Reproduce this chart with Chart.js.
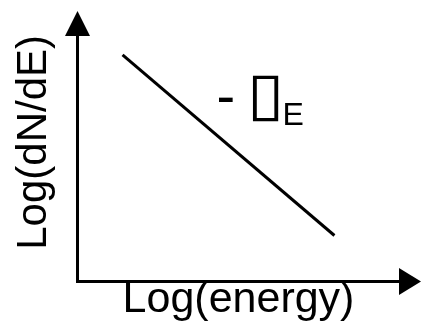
<!DOCTYPE html>
<html>
<head>
<meta charset="utf-8">
<script src="https://cdn.jsdelivr.net/npm/chart.js@4/dist/chart.umd.min.js"></script>
<style>
  html, body { margin: 0; padding: 0; background: #fff; }
  canvas { display: block; }
</style>
</head>
<body>
<canvas id="spectrum" width="421" height="322"></canvas>
<script>
// Schematic power-law spectrum: log flux falls linearly with log energy.
const xTitle = 'Log(energy)';
const yTitle = 'Log(dN/dE)';
const logEnergy = [1.41, 7.97];
const logFlux = [9.19, 1.85];
const slopeSign = '-';
const slopeSymbol = '\u25AF';
const slopeSubscript = 'E';

// Where the slope annotation starts (baseline, left end), in axis units.
const slopeLabelAt = { x: 4.40, y: 6.75 };

const FONT = '"Liberation Sans", Arial, sans-serif';

const arrowAxes = {
  id: 'arrowAxes',
  afterDraw(chart) {
    const { ctx, chartArea: a } = chart;
    const cx = Math.round(a.left) + 0.5;
    const cy = Math.round(a.bottom) + 0.5;
    ctx.save();
    ctx.fillStyle = '#000';
    // arrowhead on the vertical axis
    ctx.beginPath();
    ctx.moveTo(cx, a.top - 24);
    ctx.lineTo(cx - 12.5, a.top + 1);
    ctx.lineTo(cx + 12.5, a.top + 1);
    ctx.closePath();
    ctx.fill();
    // arrowhead on the horizontal axis
    ctx.beginPath();
    ctx.moveTo(a.right + 21, cy);
    ctx.lineTo(a.right - 1, cy - 13.5);
    ctx.lineTo(a.right - 1, cy + 13.5);
    ctx.closePath();
    ctx.fill();
    ctx.restore();
  }
};

const slopeLabel = {
  id: 'slopeLabel',
  afterDatasetsDraw(chart) {
    const { ctx, scales } = chart;
    const x0 = scales.x.getPixelForValue(slopeLabelAt.x);
    const y0 = scales.y.getPixelForValue(slopeLabelAt.y);
    ctx.save();
    ctx.fillStyle = '#000';
    ctx.textBaseline = 'alphabetic';
    ctx.textAlign = 'left';

    ctx.font = '56px ' + FONT;
    ctx.fillText(slopeSign, x0 - 2.5, y0);

    // symbol stretched to a 25.6 x 46.7 px outline
    ctx.font = '100px "DejaVu Sans"';
    const m = ctx.measureText(slopeSymbol);
    const gw = m.actualBoundingBoxLeft + m.actualBoundingBoxRight;
    const gh = m.actualBoundingBoxAscent + m.actualBoundingBoxDescent;
    ctx.translate(x0 + 33.7, y0 - 40);
    ctx.scale(25.6 / gw, 46.7 / gh);
    ctx.fillText(slopeSymbol, m.actualBoundingBoxLeft, m.actualBoundingBoxAscent);
    ctx.setTransform(1, 0, 0, 1, 0, 0);

    ctx.font = '32px ' + FONT;
    ctx.fillText(slopeSubscript, x0 + 63.5, y0 + 10);
    ctx.restore();
  }
};

new Chart(document.getElementById('spectrum'), {
  type: 'scatter',
  data: {
    datasets: [{
      data: logEnergy.map((e, i) => ({ x: e, y: logFlux[i] })),
      showLine: true,
      borderColor: '#000',
      borderWidth: 3,
      pointRadius: 0,
      pointHoverRadius: 0,
      fill: false
    }]
  },
  options: {
    responsive: false,
    animation: false,
    events: [],
    layout: { padding: { left: 10, right: 21, top: 35, bottom: 0 } },
    plugins: { legend: { display: false }, tooltip: { enabled: false } },
    scales: {
      x: {
        type: 'linear',
        min: 0,
        max: 10,
        grid: { display: false, drawTicks: false },
        ticks: { display: false },
        border: { display: true, color: '#000', width: 3 },
        title: {
          display: true,
          text: xTitle,
          color: '#000',
          font: { family: FONT, size: 43, lineHeight: 1 },
          padding: { top: -2.5, bottom: 0.5 }
        }
      },
      y: {
        type: 'linear',
        min: 0,
        max: 10,
        grid: { display: false, drawTicks: false },
        ticks: { display: false },
        border: { display: true, color: '#000', width: 3 },
        title: {
          display: true,
          text: yTitle,
          align: 'end',
          color: '#000',
          font: { family: FONT, size: 42, lineHeight: 1 },
          padding: { top: 3.5, bottom: 21.5 }
        }
      }
    }
  },
  plugins: [arrowAxes, slopeLabel]
});
</script>
</body>
</html>
